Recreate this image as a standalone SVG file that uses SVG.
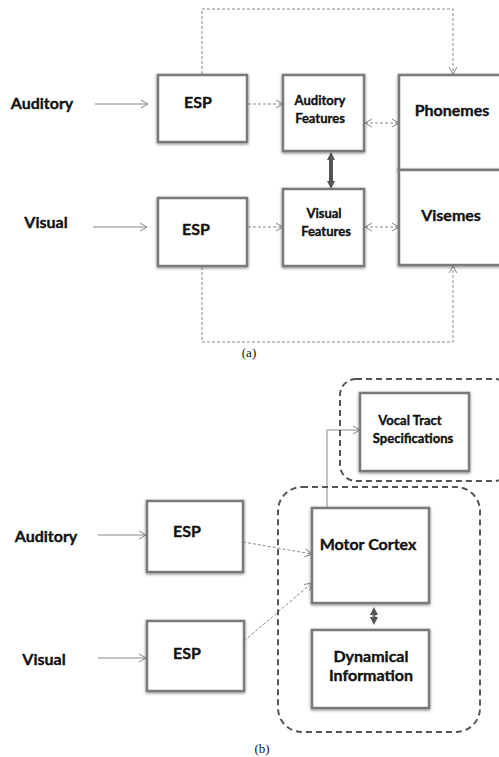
<svg xmlns="http://www.w3.org/2000/svg" width="499" height="757" viewBox="0 0 499 757">
<style>
.box{fill:#fff;stroke:#7a7a7a;stroke-width:2.5;filter:url(#sh)}
.lbl{font-family:Lato,"Open Sans",sans-serif;font-weight:bold;fill:#111;stroke:#111;stroke-width:0.35;text-anchor:middle}
.t16{font-size:16px}
.t13{font-size:13px}
.cap{font-family:"Liberation Serif",serif;font-size:13px;fill:#111;text-anchor:middle}
.sol{fill:none;stroke:#8a8a8a;stroke-width:1}
.dsh{fill:none;stroke:#8a8a8a;stroke-width:1;stroke-dasharray:3,2}
.grp{fill:none;stroke:#555;stroke-width:2;stroke-dasharray:6,4}
</style>
<defs>
<filter id="sh" x="-10%" y="-10%" width="120%" height="120%">
<feGaussianBlur in="SourceAlpha" stdDeviation="1.5" result="b"/>
<feOffset dx="0" dy="1" in="b" result="o"/>
<feComponentTransfer in="o" result="o2"><feFuncA type="linear" slope="0.5"/></feComponentTransfer>
<feMerge><feMergeNode in="o2"/><feMergeNode in="SourceGraphic"/></feMerge>
</filter>
<marker id="ah" markerWidth="10" markerHeight="10" refX="8" refY="5" orient="auto-start-reverse" markerUnits="userSpaceOnUse">
<path d="M1,1 L8,5 L1,9" fill="none" stroke="#8a8a8a" stroke-width="1"/>
</marker>
<marker id="tk" markerWidth="10" markerHeight="10" refX="5" refY="5" orient="auto-start-reverse" markerUnits="userSpaceOnUse">
<path d="M1,1 L9,5 L1,9 Z" fill="#555"/>
</marker>
</defs>

<g id="connectors">
<line class="sol" x1="95" y1="104" x2="148" y2="104" marker-end="url(#ah)"/>
<line class="dsh" x1="248" y1="104" x2="283" y2="104" marker-end="url(#ah)"/>
<line class="dsh" x1="365" y1="123" x2="399" y2="123" marker-start="url(#ah)" marker-end="url(#ah)"/>
<polyline class="dsh" points="202,74 202,9 453,9 453,74" marker-end="url(#ah)"/>
<line class="sol" x1="93" y1="227" x2="147" y2="227" marker-end="url(#ah)"/>
<line class="dsh" x1="248" y1="227" x2="283" y2="227" marker-end="url(#ah)"/>
<line class="dsh" x1="365" y1="227" x2="399" y2="227" marker-start="url(#ah)" marker-end="url(#ah)"/>
<polyline class="dsh" points="202,267 202,342 453,342 453,266" marker-end="url(#ah)"/>
<line x1="331" y1="156" x2="331" y2="185" stroke="#555" stroke-width="4" marker-start="url(#tk)" marker-end="url(#tk)"/>
<line class="sol" x1="98" y1="535" x2="146" y2="535" marker-end="url(#ah)"/>
<line class="sol" x1="98" y1="658" x2="146" y2="658" marker-end="url(#ah)"/>
<line class="dsh" x1="243" y1="542" x2="312" y2="554" marker-end="url(#ah)"/>
<line class="dsh" x1="244" y1="641" x2="312" y2="583" marker-end="url(#ah)"/>
<polyline class="sol" points="327,508 327,430 360,430" marker-end="url(#ah)"/>
<line x1="374" y1="611" x2="374" y2="621" stroke="#777" stroke-width="3" marker-start="url(#tk)" marker-end="url(#tk)"/>
</g>

<g id="groups">
<rect class="grp" x="340" y="379" width="170" height="102" rx="16"/>
<rect class="grp" x="278" y="487" width="202" height="245" rx="24"/>
</g>

<g id="label-auditory-a"><text class="lbl t16" x="42" y="109">Auditory</text></g>
<g id="label-visual-a"><text class="lbl t16" x="46" y="228">Visual</text></g>

<g id="esp-a1"><rect class="box" x="158" y="75" width="89" height="67"/><text class="lbl t16" x="198" y="108">ESP</text></g>
<g id="auditory-features"><rect class="box" x="283" y="75" width="81" height="76"/><text class="lbl t13" x="320" y="105">Auditory</text><text class="lbl t13" x="320" y="123">Features</text></g>
<g id="phonemes"><rect class="box" x="399" y="75" width="110" height="95"/><text class="lbl t16" x="452" y="116">Phonemes</text></g>

<g id="esp-a2"><rect class="box" x="158" y="198" width="89" height="68"/><text class="lbl t16" x="196" y="235">ESP</text></g>
<g id="visual-features"><rect class="box" x="283" y="189" width="81" height="77"/><text class="lbl t13" x="324" y="218">Visual</text><text class="lbl t13" x="326" y="236">Features</text></g>
<g id="visemes"><rect class="box" x="399" y="170" width="110" height="95"/><text class="lbl t16" x="451" y="221">Visemes</text></g>

<g id="caption-a"><text class="cap" x="249" y="357">(a)</text></g>

<g id="label-auditory-b"><text class="lbl t16" x="46" y="542">Auditory</text></g>
<g id="label-visual-b"><text class="lbl t16" x="44" y="665">Visual</text></g>

<g id="vocal-tract"><rect class="box" x="360" y="393" width="109" height="78"/><text class="lbl t13" x="410" y="425">Vocal Tract</text><text class="lbl t13" x="413" y="443">Specifications</text></g>
<g id="esp-b1"><rect class="box" x="147" y="501" width="96" height="71"/><text class="lbl t16" x="187" y="537">ESP</text></g>
<g id="motor-cortex"><rect class="box" x="312" y="508" width="117" height="95"/><text class="lbl t16" x="368" y="550">Motor Cortex</text></g>
<g id="esp-b2"><rect class="box" x="147" y="621" width="97" height="70"/><text class="lbl t16" x="187" y="659">ESP</text></g>
<g id="dynamical-info"><rect class="box" x="312" y="630" width="117" height="78"/><text class="lbl t16" x="371" y="662">Dynamical</text><text class="lbl t16" x="371" y="681">Information</text></g>

<g id="caption-b"><text class="cap" x="262" y="753">(b)</text></g>
</svg>
